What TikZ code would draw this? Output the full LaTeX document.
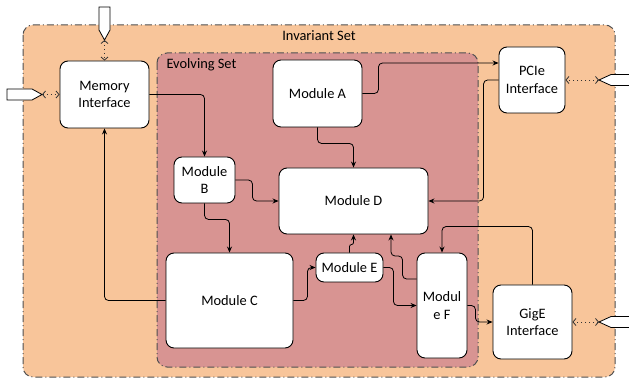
\documentclass[tikz,border=0pt]{standalone}
\usepackage{fontspec}
\setmainfont{Carlito}
\usetikzlibrary{arrows.meta}
\definecolor{invfill}{RGB}{248,197,154}
\definecolor{evofill}{RGB}{216,148,146}
\definecolor{setline}{RGB}{80,80,80}
\begin{document}
\begin{tikzpicture}[x=1pt,y=-1pt,
  font=\fontsize{14.4}{17.3}\selectfont,
  setbox/.style={draw=setline,line width=1pt,rounded corners=10pt,
    dash pattern=on 7pt off 3pt on 1pt off 3pt},
  modbox/.style={draw=black,fill=white,line width=0.9pt,rounded corners=8pt,
    inner sep=0pt,align=center},
  link/.style={draw=black,line width=0.8pt,rounded corners=4pt,
    -{Stealth[length=6pt,width=5pt]}},
  iolink/.style={draw=black!80,line width=0.8pt,dash pattern=on 1pt off 3pt,
    {Straight Barb[length=3pt,width=7pt]}-{Straight Barb[length=3pt,width=7pt]}},
  port/.style={draw=black,fill=white,line width=0.8pt}]
\useasboundingbox (0,0) rectangle (629,379);

% containers
\draw[setbox,fill=invfill] (23,25) rectangle (615,377);
\node at (319,36) {Invariant Set};
\draw[setbox,fill=evofill] (157,53) rectangle (478,367);
\node[anchor=west] at (163,65) {Evolving Set};

% modules
\node[modbox,minimum width=89pt,minimum height=67pt] (mem)  at (104.5,94.5) {Memory\\Interface};
\node[modbox,minimum width=89pt,minimum height=67pt] (modA) at (317.5,93.5) {Module A};
\node[modbox,minimum width=66pt,minimum height=66pt] (pcie) at (532,80) {PCIe\\Interface};
\node[modbox,minimum width=61pt,minimum height=46pt] (modB) at (204.5,180) {Module\\B};
\node[modbox,minimum width=149pt,minimum height=66pt] (modD) at (353.5,201) {Module D};
\node[modbox,minimum width=127pt,minimum height=95pt] (modC) at (229.5,300.5) {Module C};
\node[modbox,minimum width=67pt,minimum height=29pt] (modE) at (349.5,267.5) {Module E};
\node[modbox,minimum width=50pt,minimum height=105pt] (modF) at (442,305.5) {Modul\\e F};
\node[modbox,minimum width=79pt,minimum height=74pt] (gige) at (532.5,322) {GigE\\Interface};

% external ports
\coordinate (pleft) at (42,94.5);
\coordinate (ptop) at (104.5,40);
\coordinate (ppcie) at (599,80);
\coordinate (pgige) at (599,322);
\draw[port] (7,89) -- (32,89) -- (pleft) -- (32,100) -- (7,100) -- cycle;
\draw[port] (99,7) -- (110,7) -- (110,30) -- (ptop) -- (99,30) -- cycle;
\draw[port] (ppcie) -- (611,74.5) -- (640,74.5) -- (640,85.5) -- (611,85.5) -- cycle;
\draw[port] (pgige) -- (611,316.5) -- (640,316.5) -- (640,327.5) -- (611,327.5) -- cycle;

\draw[iolink] (pleft) -- (mem.west);
\draw[iolink] (ptop) -- (mem.north);
\draw[iolink] (ppcie) -- (pcie.east);
\draw[iolink] (pgige) -- (gige.east);

% internal connections
\draw[link] (mem.east) -| (modB.north);
\draw[link] (modC.west) -| (mem.south);
\draw[link] (modA.east) -- ++(16,0) |- ([yshift=17pt]pcie.west);
\draw[link] (pcie.west) -- ++(-15,0) |- (modD.east);
\draw[link] (modA.south) -- ++(0,16) -| (modD.north);
\draw[link] (modB.east) -- ++(17,0) |- (modD.west);
\draw[link] (modB.south) -- ++(0,16) -| (modC.north);
\draw[link] (modC.east) -- ++(14,0) |- (modE.west);
\draw[link,rounded corners=2pt] (modE.north) -- ++(0,-8) -| (modD.south);
\draw[link] ([yshift=26.5pt]modF.west) -- ++(-14,0) -- ++(0,-23) -| ([xshift=37.5pt]modD.south);
\draw[link] (modE.east) -- ++(10,0) |- (modF.west);
\draw[link] (gige.north) -- ++(0,-58) -| (modF.north);
\draw[link] (modF.east) -- ++(8,0) |- (gige.west);
\end{tikzpicture}
\end{document}
